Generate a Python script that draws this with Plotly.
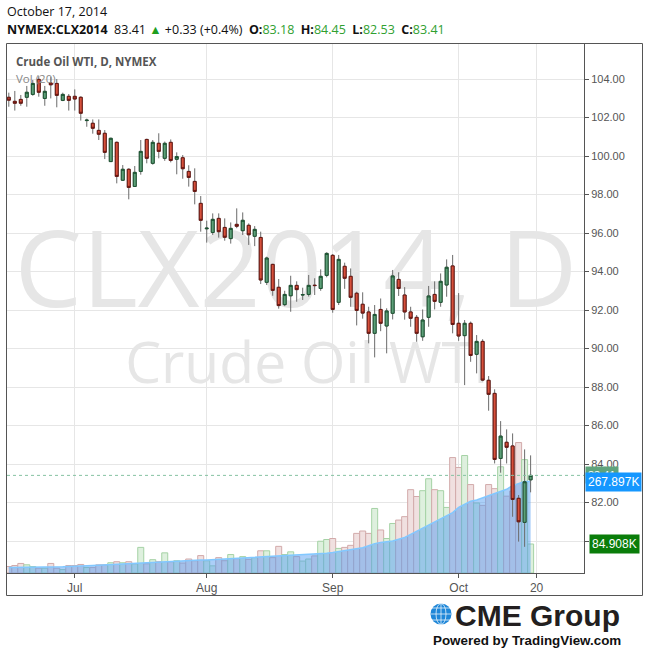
import numpy as np
import pandas as pd
import plotly.graph_objects as go

# ---------------- data ----------------
holidays = ["2014-07-04", "2014-09-01"]
dates = [d for d in pd.bdate_range("2014-06-16", "2014-10-17")
         if d.strftime("%Y-%m-%d") not in holidays]

open_ = [103.05, 102.84, 102.94, 103.05, 103.20, 103.98, 102.99, 103.79, 103.77, 102.89,
         103.10, 103.10, 103.05, 101.84, 101.70, 101.33, 101.18, 99.71, 100.71, 98.74,
         99.31, 98.42, 99.20, 100.86, 99.62, 100.66, 99.88, 100.71, 99.83, 99.91,
         99.20, 98.68, 97.54, 96.22, 96.03, 96.76, 96.29, 95.71, 96.45, 96.12,
         96.40, 95.83, 95.77, 93.44, 94.37, 93.18, 92.28, 92.74, 93.28, 92.78,
         92.81, 93.29, 93.12, 93.80, 94.84, 92.40, 94.27, 93.75, 92.87, 92.30,
         91.90, 90.79, 92.03, 91.17, 91.83, 93.59, 92.78, 91.90, 91.62, 90.61,
         91.62, 92.81, 92.40, 93.30, 94.29, 91.31, 90.67, 91.31, 89.70, 90.37,
         88.35, 87.67, 84.29, 85.13, 84.94, 82.22, 80.97, 83.18]
high = [103.29, 103.38, 103.17, 103.64, 103.95, 104.15, 103.64, 104.10, 104.00, 103.29,
        103.22, 103.46, 103.10, 101.94, 101.90, 101.90, 101.35, 100.95, 100.75, 99.53,
        99.36, 99.48, 100.83, 100.90, 100.83, 101.18, 100.75, 100.86, 100.19, 100.05,
        99.52, 99.36, 97.92, 96.64, 97.02, 97.02, 96.76, 96.55, 97.28, 97.07,
        96.50, 96.36, 96.07, 94.77, 94.40, 93.61, 93.00, 93.78, 93.49, 93.16,
        93.82, 93.65, 94.11, 95.00, 94.91, 94.86, 94.46, 94.16, 92.95, 92.92,
        92.17, 92.26, 92.60, 92.09, 94.08, 93.96, 93.19, 92.17, 91.74, 92.03,
        93.25, 93.49, 93.90, 94.63, 94.86, 92.88, 91.48, 91.40, 90.70, 90.48,
        88.57, 87.88, 86.23, 85.80, 85.59, 82.39, 84.76, 84.45]
low = [102.56, 102.36, 102.61, 102.56, 103.13, 103.08, 102.61, 102.99, 102.53, 102.85,
       102.36, 102.36, 101.84, 101.52, 101.16, 100.83, 99.84, 99.70, 98.58, 98.70,
       97.75, 98.40, 99.03, 99.62, 99.55, 99.88, 99.75, 99.67, 99.05, 98.82,
       98.41, 97.49, 96.07, 95.50, 95.90, 95.76, 95.60, 95.45, 96.25, 95.90,
       95.38, 95.32, 93.35, 93.30, 92.74, 92.07, 92.20, 91.91, 92.43, 92.52,
       92.70, 92.78, 93.00, 93.70, 91.86, 92.26, 93.10, 92.17, 91.20, 91.55,
       90.27, 89.54, 90.90, 89.75, 91.51, 92.73, 91.50, 91.13, 90.35, 90.40,
       91.13, 92.03, 92.17, 92.69, 90.79, 90.40, 88.10, 89.31, 88.71, 88.30,
       86.77, 84.03, 83.55, 84.03, 81.26, 79.97, 79.70, 82.53]
close = [102.90, 102.74, 102.74, 103.31, 103.77, 103.31, 103.36, 103.70, 103.15, 103.20,
         102.89, 102.96, 102.22, 101.86, 101.44, 101.13, 100.19, 100.92, 98.94, 99.31,
         98.37, 99.15, 100.24, 99.88, 100.71, 100.24, 100.66, 99.77, 99.97, 99.34,
         98.89, 98.16, 96.66, 96.25, 96.71, 96.07, 95.78, 96.24, 96.35, 96.66,
         95.91, 96.19, 93.56, 94.70, 93.02, 92.23, 92.81, 93.28, 93.06, 92.80,
         93.28, 93.27, 93.75, 94.94, 92.03, 94.63, 93.65, 92.66, 91.98, 91.84,
         90.79, 91.77, 91.31, 91.95, 93.77, 93.12, 91.90, 91.57, 90.79, 91.48,
         92.73, 92.45, 93.49, 94.22, 91.25, 90.65, 91.31, 89.64, 90.37, 88.36,
         87.62, 84.24, 85.45, 84.87, 82.16, 81.00, 83.08, 83.41]
volume_k = [19, 22, 28, 24, 19, 14, 14, 28, 14, 10,
            22, 22, 25, 16, 16, 24, 24, 30, 33, 30,
            33, 27, 75, 27, 39, 33, 59, 33, 36, 29,
            41, 36, 51, 36, 21, 45, 36, 54, 42, 48,
            40, 45, 65, 65, 45, 78, 54, 62, 48, 35,
            41, 50, 93, 98, 101, 72, 75, 81, 116, 123,
            116, 189, 126, 101, 145, 155, 165, 244, 224, 241,
            276, 244, 241, 192, 338, 309, 344, 259, 205, 198,
            259, 247, 311, 225, 240, 382, 332, 84.908]
vol_ma20_k = [16, 16, 17, 17, 17, 18, 18, 18, 18, 18,
              19, 19, 20, 21, 22, 23, 24, 24, 25, 25,
              26, 27, 28, 29, 30, 31, 32, 33, 34, 35,
              36, 37, 38, 38, 39, 40, 41, 41, 42, 43,
              44, 45, 46, 46, 47, 48, 49, 50, 51, 53,
              54, 55, 56, 58, 60, 63, 65, 67, 70, 74,
              80, 86, 89, 91, 94, 99, 104, 113, 122, 132,
              142, 151, 158, 168, 177, 192, 202, 210, 214, 220,
              227, 234, 240, 245, 256, 262, 268, 267.897]
month_labels = ["Jul", "Aug", "Sep", "Oct"]
next_label = "20"
price_ticks = list(range(80, 105, 2))
symbol = "NYMEX:CLX2014"
title = "Crude Oil WTI, D, NYMEX"
header_date = "October 17, 2014"

n = len(dates)
assert all(len(a) == n for a in [open_, high, low, close, volume_k, vol_ma20_k])
idx = np.arange(n)
o = np.array(open_); c = np.array(close)
up = c >= o

# tick positions from dates
tickvals, ticktext = [], []
for m, lab in zip([7, 8, 9, 10], month_labels):
    first = next(i for i, d in enumerate(dates) if d.month == m)
    tickvals.append(first); ticktext.append(lab)
tickvals.append(n); ticktext.append(next_label)

# ---------------- figure ----------------
L, R, T, B = 7, 66, 43, 79
W, H = 650, 652
PW, PH = W - L - R, H - T - B
def px(x): return (x - L) / PW
def py(y): return (H - B - y) / PH

fig = go.Figure()

bar_fill = np.where(up, "rgb(222,240,222)", "rgb(240,224,224)")
bar_edge = np.where(up, "rgb(165,210,165)", "rgb(210,170,170)")
fig.add_trace(go.Bar(x=idx, y=volume_k, width=1, yaxis="y",
                     marker=dict(color=bar_fill, line=dict(color=bar_edge, width=1)),
                     hoverinfo="skip"))
fig.add_trace(go.Scatter(x=idx, y=vol_ma20_k, yaxis="y", mode="lines", fill="tozeroy",
                         line=dict(color="rgba(130,200,255,1)", width=1.5),
                         fillcolor="rgba(80,155,240,0.48)", hoverinfo="skip"))

# wicks
fig.add_trace(go.Candlestick(x=idx, open=o, high=high, low=low, close=c, yaxis="y2",
                             increasing=dict(line=dict(color="#6b6b6b", width=1),
                                             fillcolor="rgba(0,0,0,0)"),
                             decreasing=dict(line=dict(color="#6b6b6b", width=1),
                                             fillcolor="rgba(0,0,0,0)"),
                             hoverinfo="skip"))
# bodies
fig.add_trace(go.Candlestick(x=idx, open=o, high=np.maximum(o, c), low=np.minimum(o, c),
                             close=c, yaxis="y2",
                             increasing=dict(line=dict(color="#1b5230", width=1),
                                             fillcolor="#5d9f78"),
                             decreasing=dict(line=dict(color="#651510", width=1),
                                             fillcolor="#d6503b"),
                             hoverinfo="skip"))

shapes = []
# watermark
shapes.append(dict(type="rect", xref="paper", yref="paper", layer="below",
                   x0=px(14), x1=px(578), y0=py(312), y1=py(232),
                   line=dict(width=0), fillcolor="rgba(0,0,0,0)",
                   label=dict(text="CLX2014, D", textposition="middle center",
                              font=dict(family="Open Sans", size=107, color="#e6e6e6"))))
shapes.append(dict(type="rect", xref="paper", yref="paper", layer="below",
                   x0=px(138), x1=px(476), y0=py(386), y1=py(343),
                   line=dict(width=0), fillcolor="rgba(0,0,0,0)",
                   label=dict(text="Crude Oil WTI", textposition="middle center",
                              font=dict(family="Open Sans", size=57, color="#e6e6e6"))))
# last price dotted line
shapes.append(dict(type="line", xref="paper", yref="y2", x0=0, x1=1,
                   y0=close[-1], y1=close[-1],
                   line=dict(color="#86c2a2", width=1, dash="dot")))
# outer frame
shapes.append(dict(type="rect", xref="paper", yref="paper",
                   x0=px(6.5), x1=px(642.5), y0=py(595.5), y1=py(43.5),
                   line=dict(color="#555555", width=1), fillcolor="rgba(0,0,0,0)"))
# logo globe
shapes.append(dict(type="circle", xref="paper", yref="paper",
                   x0=px(430.5), x1=px(451.5), y0=py(624.5), y1=py(603.5),
                   line=dict(width=0), fillcolor="#1f87d8"))
for yy in [608, 614, 620]:
    shapes.append(dict(type="line", xref="paper", yref="paper",
                       x0=px(431), x1=px(451), y0=py(yy), y1=py(yy),
                       line=dict(color="rgba(255,255,255,0.7)", width=1)))
shapes.append(dict(type="circle", xref="paper", yref="paper",
                   x0=px(436), x1=px(446), y0=py(624.5), y1=py(603.5),
                   line=dict(color="rgba(255,255,255,0.7)", width=1), fillcolor="rgba(0,0,0,0)"))
shapes.append(dict(type="line", xref="paper", yref="paper",
                   x0=px(441), x1=px(441), y0=py(624), y1=py(604),
                   line=dict(color="rgba(255,255,255,0.7)", width=1)))

green = "#30a030"
chg = close[-1] - close[-2]
pct = chg / close[-2] * 100
sp = "\u00a0"
line2 = (f"<b>{symbol}</b>{sp}{sp}{close[-1]:.2f}{sp}<span style='color:#1f9e1f'>▲</span>"
         f"{sp}{chg:+.2f}{sp}({pct:+.1f}%){sp}{sp}"
         f"<b>O:</b><span style='color:{green}'>{open_[-1]:.2f}</span>{sp}{sp}"
         f"<b>H:</b><span style='color:{green}'>{high[-1]:.2f}</span>{sp}{sp}"
         f"<b>L:</b><span style='color:{green}'>{low[-1]:.2f}</span>{sp}{sp}"
         f"<b>C:</b><span style='color:{green}'>{close[-1]:.2f}</span>")

ann = []
ann.append(dict(text=header_date, xref="paper", yref="paper", x=px(5), y=py(12),
                xanchor="left", yanchor="middle", showarrow=False,
                font=dict(family="Open Sans", size=12.5, color="#111")))
ann.append(dict(text=line2, xref="paper", yref="paper", x=px(5), y=py(29),
                xanchor="left", yanchor="middle", showarrow=False,
                font=dict(family="Open Sans", size=12.5, color="#111")))
ann.append(dict(text=f"<b>{title}</b>", xref="paper", yref="paper", x=px(14), y=py(61),
                xanchor="left", yanchor="middle", showarrow=False,
                font=dict(family="Open Sans", size=11.5, color="#555")))
ann.append(dict(text="Vol (20)", xref="paper", yref="paper", x=px(14), y=py(78),
                xanchor="left", yanchor="middle", showarrow=False,
                font=dict(family="Open Sans", size=11.5, color="#888")))
# right side value labels
ann.append(dict(text=f"{close[-1]:.2f}", xref="paper", yref="y2", x=px(585), y=close[-1],
                xanchor="left", yanchor="middle", showarrow=False, bgcolor="#5fa37c",
                borderpad=2, font=dict(family="Liberation Sans", size=11, color="white")))
ann.append(dict(text=f"{vol_ma20_k[-1]:.3f}K", xref="paper", yref="y", x=px(585),
                y=vol_ma20_k[-1], xanchor="left", yanchor="middle", showarrow=False,
                bgcolor="#1597ff", borderpad=2,
                font=dict(family="Liberation Sans", size=12, color="white")))
ann.append(dict(text=f"{volume_k[-1]:.3f}K", xref="paper", yref="y", x=px(589),
                y=volume_k[-1], xanchor="left", yanchor="middle", showarrow=False,
                bgcolor="#0a7d0a", borderpad=2,
                font=dict(family="Liberation Sans", size=12, color="white")))
# logo text
ann.append(dict(text="<b>CME Group</b>", xref="paper", yref="paper", x=px(453), y=py(615),
                xanchor="left", yanchor="middle", showarrow=False,
                font=dict(family="Liberation Sans", size=30, color="#231f20")))
ann.append(dict(text="<b>Powered by TradingView.com</b>", xref="paper", yref="paper",
                x=px(431), y=py(640), xanchor="left", yanchor="middle", showarrow=False,
                font=dict(family="Liberation Sans", size=13.4, color="#111")))

vol_top = PH / 0.3415
fig.update_layout(
    width=W, height=H, autosize=False,
    margin=dict(l=L, r=R, t=T, b=B, pad=0),
    paper_bgcolor="white", plot_bgcolor="white",
    showlegend=False, bargap=0,
    xaxis=dict(range=[-0.3, 95.9], tickvals=tickvals, ticktext=ticktext,
               ticks="outside", ticklen=4, tickcolor="#555",
               showgrid=True, gridcolor="#e6e6e6", zeroline=False,
               showline=True, linecolor="#555", linewidth=1,
               tickfont=dict(family="Liberation Sans", size=12, color="#555"),
               rangeslider=dict(visible=False), fixedrange=True),
    yaxis=dict(range=[0, vol_top], visible=False, showgrid=False, fixedrange=True),
    yaxis2=dict(overlaying="y", side="right", range=[78.34, 105.87],
                tickvals=price_ticks,
                ticktext=["" if v == 80 else f"{v:.2f}" for v in price_ticks],
                ticks="outside", ticklen=4, tickcolor="#555",
                showgrid=True, gridcolor="#e6e6e6", zeroline=False,
                showline=True, linecolor="#555", linewidth=1,
                tickfont=dict(family="Liberation Sans", size=11, color="#555"),
                fixedrange=True),
    shapes=shapes, annotations=ann,
)

fig.write_html("out.html",
               config={"displayModeBar": False, "staticPlot": True},
               post_script="document.body.style.margin='0';"
                           "document.body.style.overflow='hidden';")
